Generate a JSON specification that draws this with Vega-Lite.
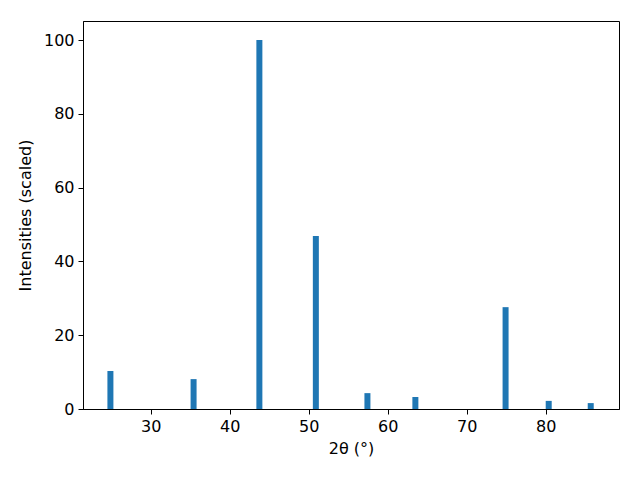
{
  "$schema": "https://vega.github.io/schema/vega-lite/v6.json",
  "autosize": "none",
  "padding": {"left": 83, "top": 21, "right": 21, "bottom": 71},
  "width": 536,
  "height": 388,
  "background": "white",
  "config": {
    "font": "DejaVu Sans",
    "view": {"stroke": "black", "strokeWidth": 1},
    "axis": {
      "grid": false,
      "domainColor": "black",
      "tickColor": "black",
      "tickSize": 5,
      "labelFontSize": 16,
      "labelColor": "black",
      "titleFontSize": 16,
      "titleFontWeight": "normal",
      "titleColor": "black",
      "labelPadding": 4
    }
  },
  "data": {
    "values": [
      {"two_theta": 24.89, "intensity": 10.3},
      {"two_theta": 35.42, "intensity": 8.1},
      {"two_theta": 43.75, "intensity": 100},
      {"two_theta": 50.9, "intensity": 46.9},
      {"two_theta": 57.43, "intensity": 4.3},
      {"two_theta": 63.5, "intensity": 3.25},
      {"two_theta": 74.92, "intensity": 27.6},
      {"two_theta": 80.38, "intensity": 2.2},
      {"two_theta": 85.7, "intensity": 1.6}
    ]
  },
  "mark": {"type": "bar", "size": 6, "color": "#1f77b4"},
  "encoding": {
    "x": {
      "field": "two_theta",
      "type": "quantitative",
      "scale": {"domain": [21.42, 89.28], "nice": false, "zero": false, "padding": 0},
      "axis": {"values": [30, 40, 50, 60, 70, 80], "title": "2θ (°)", "titlePadding": 6}
    },
    "y": {
      "field": "intensity",
      "type": "quantitative",
      "scale": {"domain": [0, 105.15], "nice": false, "padding": 0},
      "axis": {"values": [0, 20, 40, 60, 80, 100], "title": "Intensities (scaled)", "titlePadding": 10}
    }
  }
}
